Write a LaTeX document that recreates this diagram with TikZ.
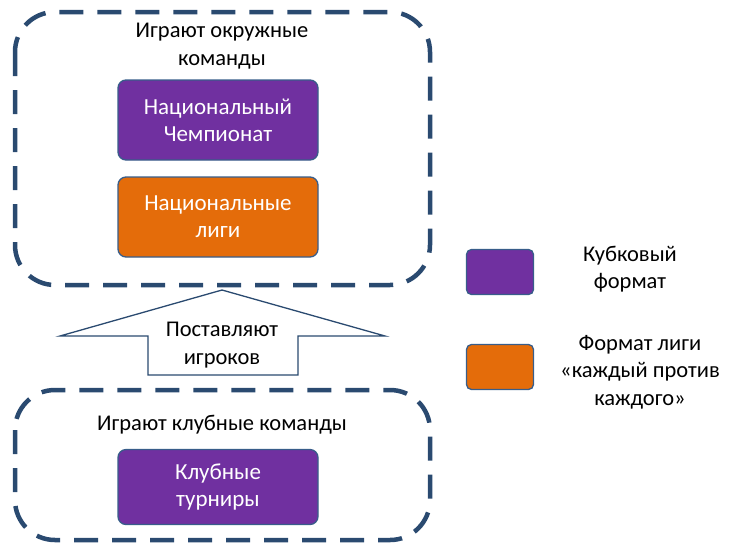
\documentclass[tikz,border=0pt]{standalone}
\usepackage{fontspec}
\setmainfont{Carlito}
\definecolor{pur}{HTML}{7030A0}
\definecolor{org}{HTML}{E46C0A}
\definecolor{bdr}{HTML}{385D8A}
\definecolor{dsh}{HTML}{2A4A70}
\begin{document}
\begin{tikzpicture}[x=1pt,y=-1pt,
  grp/.style={draw=dsh,line width=4.5pt,dash pattern=on 24pt off 14pt,rounded corners=40pt},
  box/.style={draw=bdr,line width=1.3pt,rounded corners=8pt,minimum width=200pt,minimum height=80pt,text=white,align=center,font=\fontsize{23}{27}\selectfont},
  leg/.style={draw=bdr,line width=1.3pt,rounded corners=5pt,minimum width=67pt,minimum height=45pt},
  lbl/.style={align=center,font=\fontsize{22.5}{27.5}\selectfont}]
\useasboundingbox (0,0) rectangle (730,547);
\draw[grp] (15,12) rectangle (430,285);
\draw[grp] (15,390) rectangle (430,540);
\node[lbl] (t1) at (222,46) {Играют окружные\\команды};
\node[box,fill=pur] (nc) at (218,120) {Национальный\\Чемпионат};
\node[box,fill=org] (nl) at (218,217) {Национальные\\лиги};
\node[lbl] (t2) at (222,425) {Играют клубные команды};
\node[box,fill=pur,minimum height=75pt] (kt) at (218,487) {Клубные\\турниры};
\draw[draw=dsh,line width=1.3pt,fill=white] (148,375) -- (148,336) -- (60,336) -- (222,290) -- (385,336) -- (298,336) -- (298,375) -- cycle;
\node[lbl] (ar) at (222,345) {Поставляют\\игроков};
\node[leg,fill=pur] (l1) at (500,272) {};
\node[leg,fill=org] (l2) at (500,367) {};
\node[lbl] (lt1) at (630,269) {Кубковый\\формат};
\node[lbl] (lt2) at (640,372) {Формат лиги\\«каждый против\\каждого»};
\end{tikzpicture}
\end{document}
